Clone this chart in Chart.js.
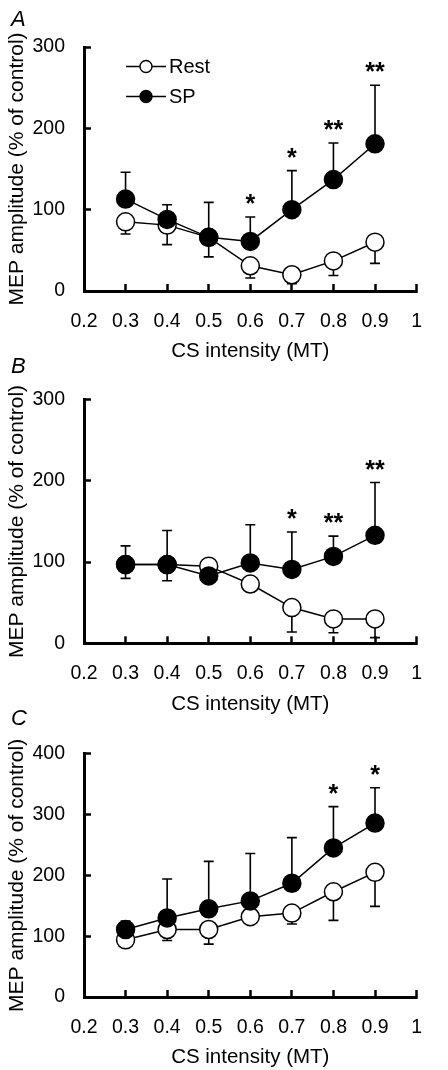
<!DOCTYPE html>
<html>
<head>
<meta charset="utf-8">
<script src="https://cdn.jsdelivr.net/npm/chart.js@4.4.1/dist/chart.umd.min.js"></script>
<style>
  body { margin: 0; background: #fff; width: 448px; height: 1070px; position: relative; overflow: hidden;
         font-family: "Liberation Sans", Arial, sans-serif; }
  .panel { position: absolute; left: 0; width: 448px; }
  .letter { position: absolute; left: 11px; font-style: italic; font-size: 22px; line-height: 1; color: #000; }
</style>
</head>
<body>
<div class="panel" style="top:0;height:362px"><canvas id="chartA"></canvas></div>
<div class="panel" style="top:362px;height:354px"><canvas id="chartB"></canvas></div>
<div class="panel" style="top:716px;height:354px"><canvas id="chartC"></canvas></div>
<div class="letter" style="top:8px">A</div>
<div class="letter" style="top:355px">B</div>
<div class="letter" style="top:707px">C</div>

<script>
// x positions (CS intensity, MT) and axis labels
const intensity = [0.3, 0.4, 0.5, 0.6, 0.7, 0.8, 0.9];
const xTickLabels = ['0.2', '0.3', '0.4', '0.5', '0.6', '0.7', '0.8', '0.9', '1'];

// panel A
const restA = [85, 81, 66, 31, 20, 37, 60];
const restErrA = [15, 24, 24, 15, 11, 18, 26];
const spA = [113, 88, 66, 61, 100, 137, 181];
const spErrA = [33, 18, 43, 30, 48, 45, 72];
const starsA = ['', '', '', '*', '*', '**', '**'];

// panel B
const restB = [97, 97, 95, 73, 44, 30, 30];
const restErrB = [17, 20, 5, 5, 30, 17, 23];
const spB = [97, 97, 83, 99, 91, 107, 133];
const spErrB = [23, 42, 5, 47, 46, 25, 65];
const starsB = ['', '', '', '', '*', '**', '**'];

// panel C
const restC = [94, 111, 111, 132, 138, 173, 205];
const restErrC = [5, 18, 24, 5, 18, 47, 56];
const spC = [111, 130, 145, 158, 187, 245, 286];
const spErrC = [14, 64, 78, 78, 75, 68, 58];
const starsC = ['', '', '', '', '', '*', '*'];

const FONT = '"Liberation Sans", Arial, sans-serif';

// error bars: Rest goes down, SP goes up (drawn under the markers)
const errorBars = {
    id: 'errorBars',
    beforeDatasetsDraw(chart) {
        const { ctx, scales: { x, y } } = chart;
        ctx.save();
        ctx.strokeStyle = '#000';
        ctx.lineWidth = 1.6;
        chart.data.datasets.forEach(ds => {
            ds.errors.forEach((e, i) => {
                const px = x.getPixelForValue(ds.data[i].x);
                const p0 = y.getPixelForValue(ds.data[i].y);
                const p1 = y.getPixelForValue(ds.data[i].y + ds.errDir * e);
                ctx.beginPath();
                ctx.moveTo(px, p0);
                ctx.lineTo(px, p1);
                ctx.moveTo(px - 5, p1);
                ctx.lineTo(px + 5, p1);
                ctx.stroke();
            });
        });
        ctx.restore();
    }
};

// significance asterisks above the SP error bars
const stars = {
    id: 'stars',
    afterDatasetsDraw(chart, args, opts) {
        if (!opts.marks) return;
        const { ctx, scales: { x, y } } = chart;
        const sp = chart.data.datasets[1];
        ctx.save();
        ctx.fillStyle = '#000';
        ctx.font = 'bold 25px ' + FONT;
        ctx.textAlign = 'center';
        ctx.textBaseline = 'alphabetic';
        opts.marks.forEach((m, i) => {
            if (!m) return;
            const px = x.getPixelForValue(sp.data[i].x);
            const top = y.getPixelForValue(sp.data[i].y + sp.errors[i]);
            ctx.fillText(m, px, top - 5);
        });
        ctx.restore();
    }
};

// legend in the style "-o- Rest"
const lineLegend = {
    id: 'lineLegend',
    afterDraw(chart, args, opts) {
        if (!opts.display) return;
        const { ctx } = chart;
        ctx.save();
        chart.data.datasets.forEach((ds, i) => {
            const ly = opts.y + i * 30;
            ctx.strokeStyle = '#000';
            ctx.lineWidth = 1.5;
            ctx.beginPath();
            ctx.moveTo(opts.x, ly);
            ctx.lineTo(opts.x + 40, ly);
            ctx.stroke();
            ctx.beginPath();
            ctx.arc(opts.x + 20, ly, 6, 0, Math.PI * 2);
            ctx.fillStyle = ds.pointBackgroundColor;
            ctx.fill();
            ctx.lineWidth = 1.4;
            ctx.stroke();
            ctx.fillStyle = '#000';
            ctx.font = '20px ' + FONT;
            ctx.textBaseline = 'middle';
            ctx.fillText(ds.label, opts.x + 43, ly + 1);
        });
        ctx.restore();
    }
};

function makePanel(id, rest, restErr, sp, spErr, marks, yMax, padTop, padBottom, legend) {
    const toPoints = vals => intensity.map((v, i) => ({ x: v, y: vals[i] }));
    const axisTicks = { color: '#000', font: { family: FONT, size: 19.5 }, padding: 26 };
    const axisGrid = { drawOnChartArea: false, tickLength: -7, tickWidth: 2.5, tickColor: '#000' };
    const axisBorder = { color: '#000', width: 3 };

    return new Chart(document.getElementById(id), {
        type: 'line',
        data: {
            datasets: [{
                label: 'Rest',
                data: toPoints(rest),
                errors: restErr,
                errDir: -1,
                borderColor: '#000',
                borderWidth: 1.5,
                pointBackgroundColor: '#fff',
                pointBorderColor: '#000',
                pointBorderWidth: 1.5,
                pointRadius: 9,
                order: 1,
                clip: false
            }, {
                label: 'SP',
                data: toPoints(sp),
                errors: spErr,
                errDir: 1,
                borderColor: '#000',
                borderWidth: 1.5,
                pointBackgroundColor: '#000',
                pointBorderColor: '#000',
                pointBorderWidth: 1.5,
                pointRadius: 9,
                order: 0,
                clip: false
            }]
        },
        options: {
            responsive: true,
            maintainAspectRatio: false,
            animation: false,
            layout: { padding: { top: padTop, bottom: padBottom, left: 0, right: 8 } },
            plugins: {
                legend: { display: false },
                tooltip: { enabled: false },
                stars: { marks: marks },
                lineLegend: { display: legend, x: 126, y: 66.5 }
            },
            scales: {
                x: {
                    type: 'linear',
                    min: 0.2,
                    max: 1,
                    afterFit: s => { s.height = 71; },
                    ticks: Object.assign({ stepSize: 0.1, callback: (v, i) => xTickLabels[i] }, axisTicks),
                    grid: axisGrid,
                    border: axisBorder,
                    title: {
                        display: true,
                        text: 'CS intensity (MT)',
                        color: '#000',
                        font: { family: FONT, size: 20.5, lineHeight: 1 },
                        padding: { top: 0, bottom: 0 }
                    }
                },
                y: {
                    min: 0,
                    max: yMax,
                    afterFit: s => { s.width = 84; },
                    ticks: Object.assign({ stepSize: 100 }, axisTicks),
                    grid: axisGrid,
                    border: axisBorder,
                    title: {
                        display: true,
                        text: 'MEP amplitude (% of control)',
                        color: '#000',
                        font: { family: FONT, size: 21, lineHeight: 1 },
                        padding: { top: 7, bottom: 0 }
                    }
                }
            }
        },
        plugins: [errorBars, stars, lineLegend]
    });
}

makePanel('chartA', restA, restErrA, spA, spErrA, starsA, 300, 47, 0, true);
makePanel('chartB', restB, restErrB, spB, spErrB, starsB, 300, 36.3, 1.7, false);
makePanel('chartC', restC, restErrC, spC, spErrC, starsC, 400, 34, 2, false);
</script>
</body>
</html>
